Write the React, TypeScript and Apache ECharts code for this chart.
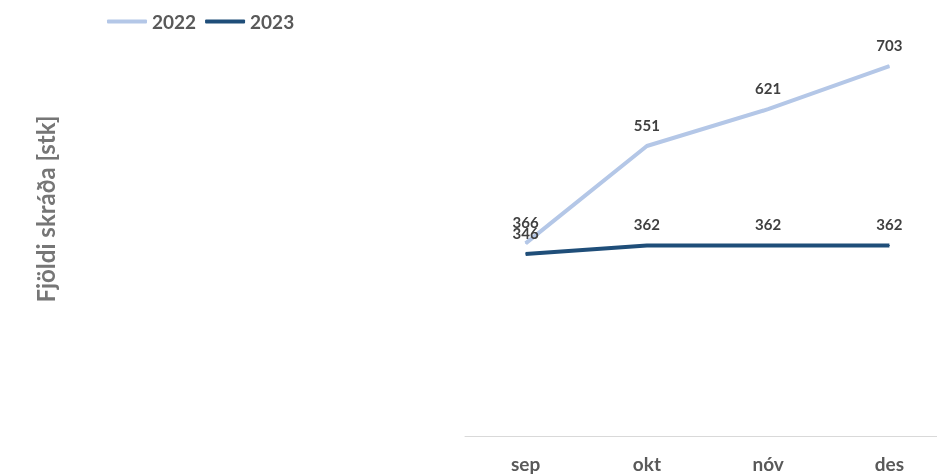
import React, { useEffect, useRef } from "react";
import * as echarts from "echarts";

const categories = ["sep", "okt", "nóv", "des"];
const series2022 = [366, 551, 621, 703];
const series2023 = [346, 362, 362, 362];
const seriesNames = ["2022", "2023"];
const yTitle = "Fjöldi skráða [stk]";

const FONT = "Lato, 'Noto Sans', sans-serif";

export default function App() {
  const ref = useRef<HTMLDivElement>(null);
  useEffect(() => {
    if (!ref.current) return;
    const chart = echarts.init(ref.current, undefined, { renderer: "svg" });
    const label = {
      show: true,
      position: "top" as const,
      distance: 13,
      fontFamily: FONT,
      fontWeight: "bold" as const,
      fontSize: 15,
      color: "#404040",
    };
    chart.setOption({
      animation: false,
      legend: {
        left: 107,
        top: 12,
        padding: 0,
        itemWidth: 40,
        itemHeight: 4,
        itemGap: 9,
        icon: "roundRect",
        textStyle: { fontFamily: FONT, fontWeight: "bold", fontSize: 19, color: "#595959" },
        data: seriesNames,
      },
      grid: { left: 465, right: 10, top: 15, bottom: 40 },
      xAxis: {
        type: "category",
        data: categories,
        boundaryGap: true,
        axisLine: { lineStyle: { color: "#d9d9d9", width: 1 } },
        axisTick: { show: false },
        axisLabel: { margin: 18, fontFamily: FONT, fontWeight: "bold", fontSize: 19, lineHeight: 19, color: "#595959" },
      },
      yAxis: {
        type: "value",
        min: 0,
        max: 800,
        show: false,
        splitLine: { show: false },
      },
      graphic: [
        {
          type: "text",
          x: 45,
          y: 209,
          rotation: Math.PI / 2,
          style: {
            text: yTitle,
            fontFamily: FONT,
            fontWeight: "bold",
            fontSize: 24,
            fill: "#767676",
            textAlign: "center",
            textVerticalAlign: "middle",
          },
        },
      ],
      series: [
        {
          name: seriesNames[0],
          type: "line",
          data: series2022,
          symbol: "circle",
          symbolSize: 1,
          lineStyle: { color: "#b4c7e7", width: 4 },
          itemStyle: { color: "#b4c7e7" },
          label,
        },
        {
          name: seriesNames[1],
          type: "line",
          data: series2023,
          symbol: "circle",
          symbolSize: 1,
          lineStyle: { color: "#1f4e79", width: 4 },
          itemStyle: { color: "#1f4e79" },
          label,
        },
      ],
    });
    return () => chart.dispose();
  }, []);
  return (
    <div style={{ position: "fixed", left: 0, top: 0, width: 937, height: 476, overflow: "hidden" }}>
      <div ref={ref} style={{ width: 960, height: 476 }} />
    </div>
  );
}
